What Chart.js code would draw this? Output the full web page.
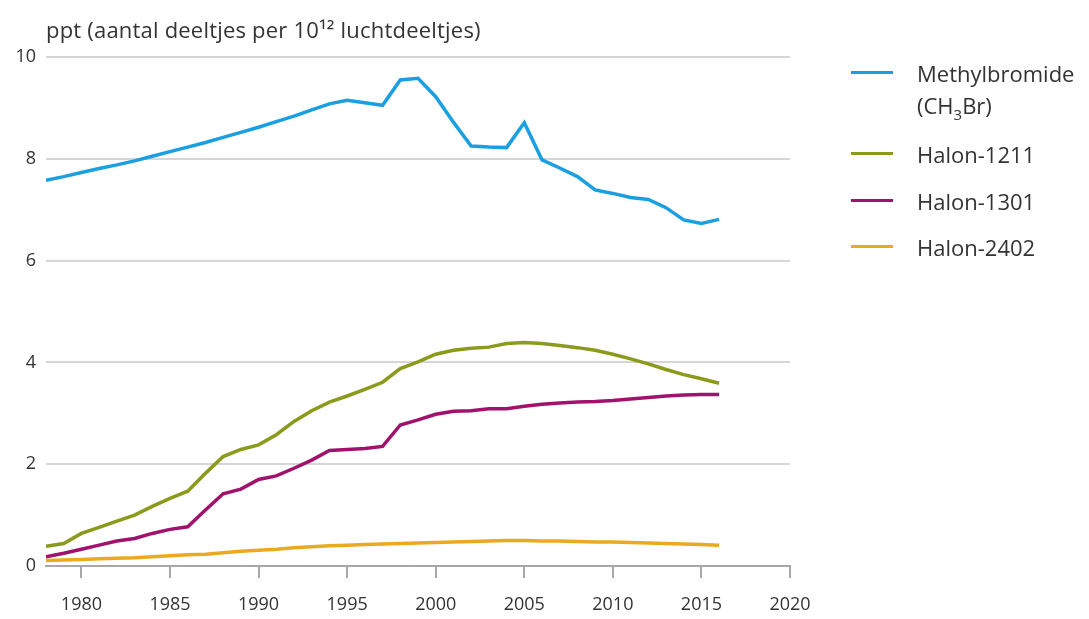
<!DOCTYPE html>
<html>
<head>
<meta charset="utf-8">
<script src="https://cdn.jsdelivr.net/npm/chart.js@4"></script>
<style>
  html, body { margin: 0; padding: 0; background: #fff; }
  #wrap { position: relative; width: 1089px; height: 619px; font-family: 'Open Sans', sans-serif; color: #333; }
  #title { position: absolute; left: 46px; top: 14px; font-size: 22px; letter-spacing: 0.2px; white-space: nowrap; }
  #legend { position: absolute; left: 851px; top: 0; font-size: 22px; }
  .item { position: absolute; left: 0; padding-left: 66px; line-height: 32px; white-space: nowrap; }
  .sw { position: absolute; left: 0; top: 14px; width: 42px; height: 3px; }
</style>
</head>
<body>
<div id="wrap">
  <canvas id="chart" width="1089" height="619"></canvas>
  <div id="title">ppt (aantal deeltjes per 10¹² luchtdeeltjes)</div>
  <div id="legend"></div>
</div>
<script>
const years = [1978, 1979, 1980, 1981, 1982, 1983, 1984, 1985, 1986, 1987,
  1988, 1989, 1990, 1991, 1992, 1993, 1994, 1995, 1996, 1997,
  1998, 1999, 2000, 2001, 2002, 2003, 2004, 2005, 2006, 2007,
  2008, 2009, 2010, 2011, 2012, 2013, 2014, 2015, 2016];

const methylbromide = [7.58, 7.65, 7.73, 7.81, 7.88, 7.96, 8.05, 8.14, 8.23, 8.32,
  8.42, 8.52, 8.62, 8.73, 8.84, 8.96, 9.08, 9.15, 9.10, 9.05,
  9.55, 9.58, 9.22, 8.72, 8.25, 8.23, 8.22, 8.71, 7.98, 7.82,
  7.65, 7.39, 7.32, 7.24, 7.20, 7.04, 6.80, 6.73, 6.81];

const halon1211 = [0.39, 0.44, 0.64, 0.76, 0.88, 1.00, 1.17, 1.33, 1.47, 1.82,
  2.15, 2.29, 2.38, 2.58, 2.84, 3.05, 3.22, 3.34, 3.47, 3.61,
  3.88, 4.01, 4.16, 4.24, 4.28, 4.30, 4.37, 4.39, 4.37, 4.33,
  4.29, 4.24, 4.16, 4.07, 3.97, 3.86, 3.76, 3.68, 3.59];

const halon1301 = [0.18, 0.25, 0.33, 0.41, 0.49, 0.54, 0.64, 0.72, 0.77, 1.10,
  1.42, 1.51, 1.70, 1.77, 1.92, 2.08, 2.27, 2.29, 2.31, 2.35,
  2.77, 2.87, 2.98, 3.04, 3.05, 3.09, 3.09, 3.14, 3.18, 3.20,
  3.22, 3.23, 3.25, 3.28, 3.31, 3.34, 3.36, 3.37, 3.37];

const halon2402 = [0.11, 0.12, 0.13, 0.14, 0.15, 0.16, 0.18, 0.20, 0.22, 0.23,
  0.26, 0.29, 0.31, 0.33, 0.36, 0.38, 0.40, 0.41, 0.42, 0.43,
  0.44, 0.45, 0.46, 0.47, 0.48, 0.49, 0.50, 0.50, 0.49, 0.49,
  0.48, 0.47, 0.47, 0.46, 0.45, 0.44, 0.43, 0.42, 0.41];

const xTicks = [1980, 1985, 1990, 1995, 2000, 2005, 2010, 2015, 2020];
const yTicks = [0, 2, 4, 6, 8, 10];

const seriesLabels = ['Methylbromide<br>(CH<sub style="font-size:15px;vertical-align:-6px">3</sub>Br)',
  'Halon-1211', 'Halon-1301', 'Halon-2402'];
const seriesColors = ['#1a9fe0', '#8a9a1c', '#a1126c', '#eba91f'];
const seriesValues = [methylbromide, halon1211, halon1301, halon2402];

// vertical centre of each legend swatch
const legendRows = [73, 154, 201, 247];

const datasets = seriesValues.map((vals, i) => ({
  label: seriesLabels[i].replace(/<[^>]+>/g, ' '),
  data: years.map((y, j) => ({ x: y, y: vals[j] })),
  borderColor: seriesColors[i],
  borderWidth: 3.5,
  pointRadius: 0,
  tension: 0,
  fill: false
}));

new Chart(document.getElementById('chart'), {
  type: 'line',
  data: { datasets: datasets },
  options: {
    responsive: false,
    animation: false,
    layout: { padding: { top: 57, right: 299, left: 0, bottom: 0 } },
    plugins: { legend: { display: false }, tooltip: { enabled: false } },
    scales: {
      x: {
        type: 'linear',
        min: 1978,
        max: 2020,
        afterBuildTicks: s => { s.ticks = xTicks.map(v => ({ value: v })); },
        afterFit: s => { s.height = 53; },
        border: { display: true, color: '#a8a8a8', width: 2 },
        grid: { drawOnChartArea: false, drawTicks: true, tickLength: 12, color: '#a8a8a8', lineWidth: 2 },
        ticks: { padding: 16, color: '#333', font: { family: 'Open Sans', size: 18 }, callback: v => String(v) }
      },
      y: {
        min: 0,
        max: 10,
        afterBuildTicks: s => { s.ticks = yTicks.map(v => ({ value: v })); },
        afterFit: s => { s.width = 46; },
        border: { display: false },
        grid: { drawTicks: false, color: '#d6d6d6', lineWidth: 2 },
        ticks: { padding: 10, color: '#333', font: { family: 'Open Sans', size: 18 } }
      }
    }
  }
});

document.getElementById('legend').innerHTML = seriesLabels.map((l, i) =>
  '<div class="item" style="top:' + (legendRows[i] - 16) + 'px"><span class="sw" style="background:' +
  seriesColors[i] + '"></span>' + l + '</div>'
).join('');
</script>
</body>
</html>
